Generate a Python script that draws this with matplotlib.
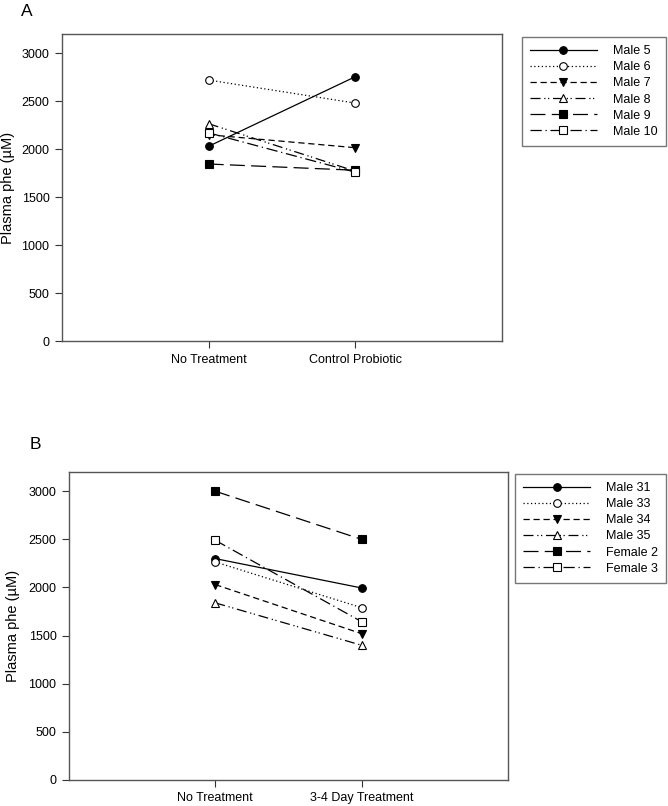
import matplotlib
matplotlib.use('Agg')
import matplotlib.pyplot as plt

plt.rcParams['font.family'] = ['Liberation Sans', 'DejaVu Sans']

# panel A data
groups_a = ['No Treatment', 'Control Probiotic']
names_a = ['Male 5', 'Male 6', 'Male 7', 'Male 8', 'Male 9', 'Male 10']
male5 = [2030, 2755]
male6 = [2720, 2480]
male7 = [2150, 2015]
male8 = [2265, 1770]
male9 = [1845, 1780]
male10 = [2170, 1760]
vals_a = [male5, male6, male7, male8, male9, male10]

# panel B data
groups_b = ['No Treatment', '3-4 Day Treatment']
names_b = ['Male 31', 'Male 33', 'Male 34', 'Male 35', 'Female 2', 'Female 3']
male31 = [2300, 1995]
male33 = [2265, 1790]
male34 = [2030, 1520]
male35 = [1840, 1400]
female2 = [3000, 2500]
female3 = [2490, 1645]
vals_b = [male31, male33, male34, male35, female2, female3]

yticks = [0, 500, 1000, 1500, 2000, 2500, 3000]

# marker / line style per series (same order in both panels)
styles = [
    dict(marker='o', mfc='black', ls='-'),
    dict(marker='o', mfc='white', ls=(0, (1, 2))),
    dict(marker='v', mfc='black', ls=(0, (5, 3))),
    dict(marker='^', mfc='white', ls=(0, (8, 3, 1, 2, 1, 3))),
    dict(marker='s', mfc='black', ls=(0, (12, 5))),
    dict(marker='s', mfc='white', ls=(0, (9, 3, 1, 3))),
]

fig = plt.figure(figsize=(6.68, 8.06), dpi=100)


def panel(rect, groups, names, vals, letter, letter_pos, leg_pos, ylab_x):
    ax = fig.add_axes(rect)
    xs = [1, 2]
    for name, v, st in zip(names, vals, styles):
        ax.plot(xs, v, color='black', lw=0.9, marker=st['marker'], ms=5.5,
                mfc=st['mfc'], mec='black', mew=0.8, ls=st['ls'], label=name)
    ax.set_xlim(0, 3)
    ax.set_ylim(0, 3200)
    ax.set_xticks(xs)
    ax.set_xticklabels(groups)
    ax.set_yticks(yticks)
    ax.tick_params(labelsize=9, length=5, width=0.8, color='#333333', pad=4)
    for s in ax.spines.values():
        s.set_color('#555555')
        s.set_linewidth(1.0)
    ax.set_ylabel('Plasma phe (\u00b5M)', fontsize=10.5)
    ax.yaxis.set_label_coords(ylab_x, 0.5)
    fig.text(letter_pos[0], letter_pos[1], letter, fontsize=12.5, va='top')
    leg = ax.legend(loc='upper left', bbox_to_anchor=leg_pos,
                    bbox_transform=fig.transFigure, fontsize=9,
                    handlelength=5.35, handletextpad=1.3, borderpad=0.65,
                    labelspacing=0.33, fancybox=False, frameon=True,
                    borderaxespad=0)
    leg.get_frame().set_edgecolor('#555555')
    leg.get_frame().set_linewidth(1.0)
    return ax


panel([0.0928, 0.5769, 0.6587, 0.3809], groups_a, names_a, vals_a, 'A',
      (0.031, 0.995), (0.781, 0.954), -0.107)
panel([0.1033, 0.0323, 0.657, 0.3821], groups_b, names_b, vals_b, 'B',
      (0.044, 0.458), (0.771, 0.412), -0.112)

fig.savefig('out.png', dpi=100)
